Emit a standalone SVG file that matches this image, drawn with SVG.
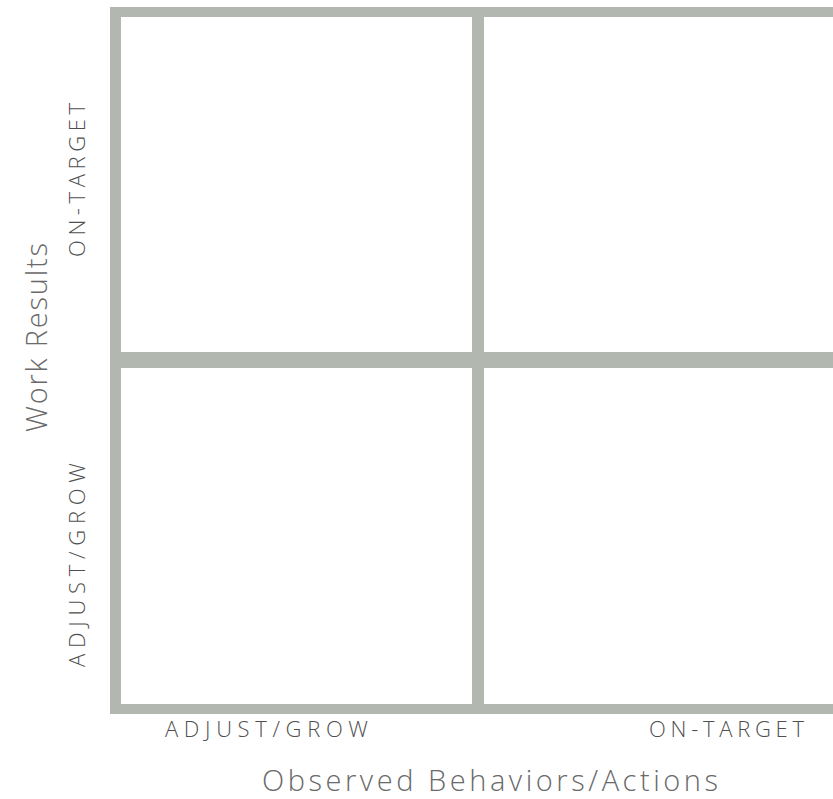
<svg xmlns="http://www.w3.org/2000/svg" width="833" height="799" viewBox="0 0 833 799">
  <style>
    .bar { fill: #b2b8af; }
    .lbl { font-family: "Open Sans", "Liberation Sans", sans-serif; font-weight: 300; fill: #4f4f4f; text-anchor: middle; }
    .tick { font-size: 22px; }
    .axis { font-size: 29px; fill: #6a6a6a; }
  </style>
  <rect width="833" height="799" fill="#ffffff"/>

  <!-- 2x2 grid -->
  <g id="grid">
    <rect class="bar" x="110" y="7" width="723" height="10"/>
    <rect class="bar" x="110" y="704" width="723" height="10"/>
    <rect class="bar" x="110" y="352" width="723" height="16"/>
    <rect class="bar" x="110" y="7" width="11" height="707"/>
    <rect class="bar" x="472" y="7" width="12" height="707"/>
  </g>

  <!-- horizontal axis -->
  <g id="x-axis">
    <text class="lbl tick" x="266.5" y="737" textLength="203">ADJUST/GROW</text>
    <text class="lbl tick" x="726.5" y="737" textLength="155">ON-TARGET</text>
    <text class="lbl axis" x="490" y="791" textLength="456">Observed Behaviors/Actions</text>
  </g>

  <!-- vertical axis -->
  <g id="y-axis">
    <text class="lbl tick" transform="translate(85,180) rotate(-90)" textLength="154">ON-TARGET</text>
    <text class="lbl tick" transform="translate(85,565) rotate(-90)" textLength="204">ADJUST/GROW</text>
    <text class="lbl axis" transform="translate(47,337.5) rotate(-90)" textLength="189">Work Results</text>
  </g>
</svg>
